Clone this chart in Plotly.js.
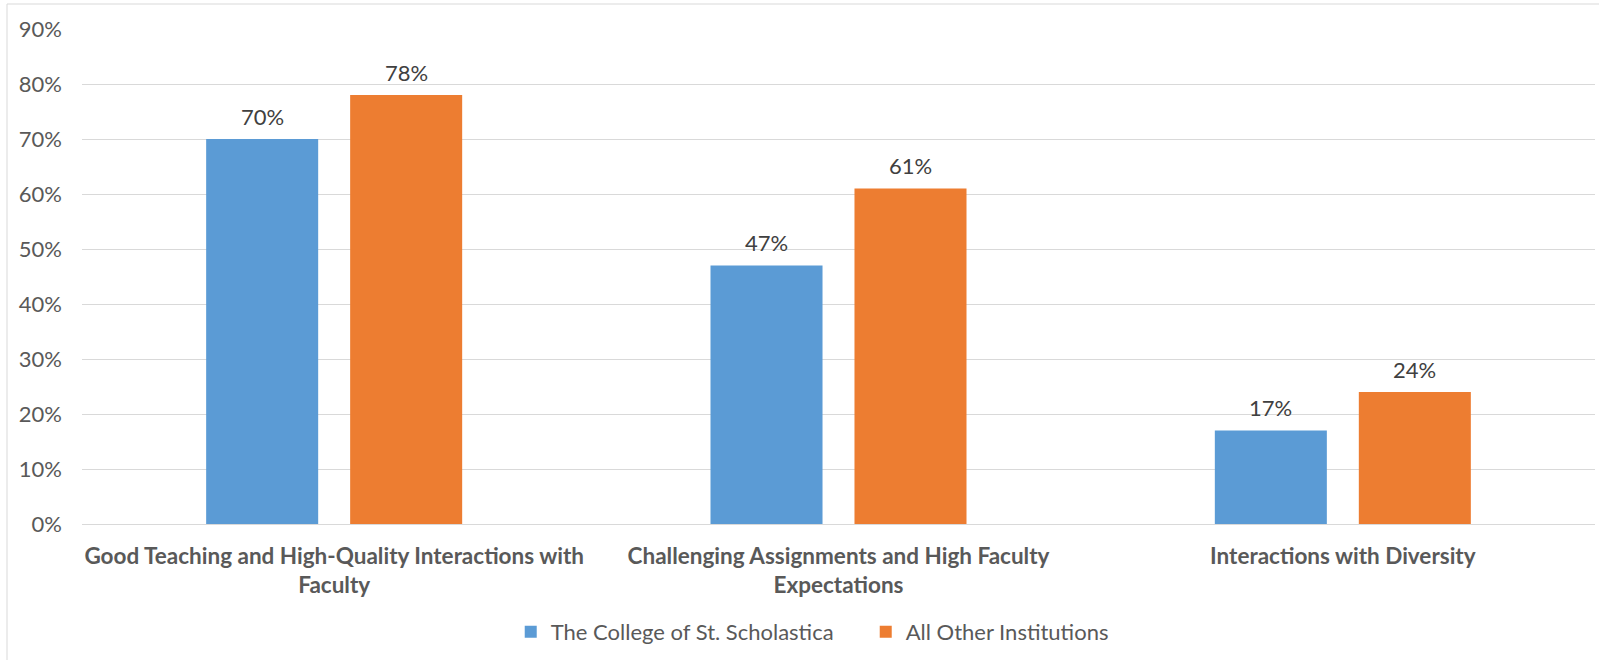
<!DOCTYPE html>
<html>
<head>
<meta charset="utf-8">
<script src="https://cdn.plot.ly/plotly-3.0.1.min.js"></script>
<style>
  html, body { margin: 0; padding: 0; background: #ffffff; }
  #chart { width: 1599px; height: 660px; }
</style>
</head>
<body>
<div id="chart"></div>
<script>
const categories = [
  "Good Teaching and High-Quality Interactions with<br>Faculty",
  "Challenging Assignments and High Faculty<br>Expectations",
  "Interactions with Diversity"
];
const seriesNames = ["The College of St. Scholastica", "All Other Institutions"];
const scholasticaValues = [70, 47, 17];
const otherValues = [78, 61, 24];
const yTickValues = [0, 10, 20, 30, 40, 50, 60, 70, 80, 90];

const FONT = "Lato, 'Open Sans', sans-serif";
const textColor = "#595959";
const BARGAP = 0.429;
const seriesValues = [scholasticaValues, otherValues];
const seriesColors = ["#5B9BD5", "#ED7D31"];

const traces = seriesValues.map((vals, i) => ({
  type: "bar",
  name: seriesNames[i],
  x: categories,
  y: vals,
  marker: { color: seriesColors[i] },
  hoverinfo: "skip"
}));

// data labels placed at each bar's centre (bar centres sit at ±(1-bargap)/4 of a category)
const annotations = [];
seriesValues.forEach((vals, s) => {
  const off = (s === 0 ? -1 : 1) * (1 - BARGAP) / 4;
  vals.forEach((v, c) => {
    annotations.push({
      xref: "x", yref: "y",
      x: c + off, y: v,
      text: v + "%",
      showarrow: false,
      yanchor: "middle",
      yshift: 23,
      font: { family: FONT, size: 22, color: "#404040" }
    });
  });
});

const layout = {
  width: 1599,
  height: 660,
  margin: { l: 82, r: 4, t: 29, b: 136 },
  paper_bgcolor: "#ffffff",
  plot_bgcolor: "#ffffff",
  barmode: "group",
  bargap: BARGAP,
  bargroupgap: 0.222,
  font: { family: FONT, color: textColor },
  showlegend: true,
  legend: {
    orientation: "h",
    x: 0.518,
    xanchor: "center",
    y: -0.218,
    yanchor: "middle",
    font: { family: FONT, size: 22, color: textColor },
    itemwidth: 30,
    entrywidth: 310,
    traceorder: "normal"
  },
  annotations: annotations,
  xaxis: {
    type: "category",
    showgrid: false,
    showline: false,
    zeroline: false,
    ticks: "",
    ticklabelstandoff: 16,
    tickfont: { family: FONT, size: 22.5, color: textColor, weight: "bold" }
  },
  yaxis: {
    range: [0, 90],
    tickvals: yTickValues,
    ticktext: yTickValues.map(v => v + "%"),
    showgrid: true,
    gridcolor: "#d9d9d9",
    gridwidth: 1,
    zeroline: true,
    zerolinecolor: "#d9d9d9",
    zerolinewidth: 1,
    showline: false,
    ticks: "",
    ticklabelstandoff: 19,
    tickfont: { family: FONT, size: 22, color: textColor }
  },
  shapes: [
    {
      type: "line", xref: "paper", yref: "paper",
      x0: -75 / 1513, x1: 1.01, y0: 1 + 25 / 495, y1: 1 + 25 / 495,
      line: { color: "#d9d9d9", width: 1 }
    },
    {
      type: "line", xref: "paper", yref: "paper",
      x0: -75 / 1513, x1: -75 / 1513, y0: -0.3, y1: 1 + 25 / 495,
      line: { color: "#d9d9d9", width: 1 }
    }
  ]
};

Plotly.newPlot("chart", traces, layout, { displayModeBar: false, staticPlot: true });
</script>
</body>
</html>
